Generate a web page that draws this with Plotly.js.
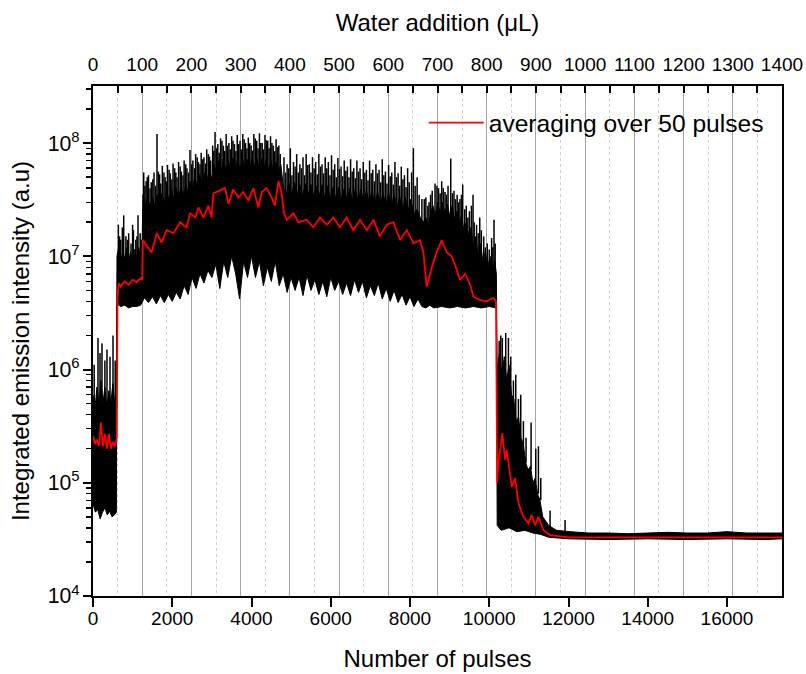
<!DOCTYPE html>
<html>
<head>
<meta charset="utf-8">
<script src="https://cdn.plot.ly/plotly-3.0.1.min.js"></script>
<style>html,body{margin:0;padding:0;background:#fff;}#chart{width:806px;height:674px;}</style>
</head>
<body>
<div id="chart"></div>
<script>
// ---- Raw single-pulse emission, dense core: upper edge ----
const upperX = [0,50,100,150,200,250,300,350,400,450,500,550,590,
  605,650,700,750,800,850,900,950,1000,1050,1100,1150,1200,1235,
  1260,1320,1380,1440,1500,1560,1620,1680,1740,1800,1860,1920,1980,2040,2100,2160,2220,2280,2340,2400,2450,
  2510,2570,2630,2690,2750,2810,2870,2930,2990,
  3050,3110,3170,3230,3290,3350,3410,3470,3530,3590,3650,3710,3770,3830,3890,3950,4010,4070,4130,4190,4250,4310,4370,4430,4490,4550,4610,4670,4740,
  4800,4870,4940,5010,5080,5150,5220,5290,5360,5430,5500,5570,5640,5710,5780,5850,5920,5990,6060,6130,6200,6270,6340,6410,6480,6550,6620,6690,6760,6830,6900,6970,7040,7110,7180,7250,7320,7390,7460,7530,7600,7670,7740,7810,7880,7950,8020,8100,8180,8260,8340,8400,8460,8520,
  8580,8640,8700,8760,8820,8880,8940,9000,9060,9120,9180,9240,9300,9360,9420,9480,9540,9600,9660,9720,9780,9840,9900,9960,10020,10080,10140,10180,
  10200,10260,10320,10380,10440,10500,10560,10620,10680,10740,10800,10860,10920,10980,11040,11100,11160,11220,11280,11350,11500,11700,12040,12500,13000,13500,14000,14500,15000,15500,16000,16500,17000,17388];
const upperY = [6e5,4.5e5,7e5,5e5,8e5,5e5,7e5,4.5e5,6.5e5,5e5,7.5e5,5e5,6e5,
  1e7,1.2e7,9e6,1.1e7,9.5e6,1.2e7,9e6,1.1e7,9e6,1.15e7,9.5e6,1.2e7,1e7,1.1e7,
  3.5e7,2.8e7,3.4e7,2.7e7,3.3e7,2.8e7,3.5e7,2.9e7,3.6e7,3.0e7,3.8e7,3.1e7,3.9e7,3.2e7,4.0e7,3.3e7,4.1e7,3.4e7,4.3e7,3.6e7,4.6e7,
  4e7,5e7,4.2e7,5.3e7,4.4e7,5.5e7,4.6e7,5.6e7,4.8e7,
  6.5e7,5.5e7,7e7,5.6e7,7.2e7,5.8e7,7e7,5.8e7,7.4e7,6e7,7.2e7,5.8e7,7.4e7,6e7,7.2e7,5.8e7,7.4e7,6e7,7.5e7,6e7,7.3e7,5.8e7,7.2e7,5.8e7,7e7,5.6e7,6.8e7,5.5e7,6.5e7,
  4.2e7,3.4e7,4.4e7,3.5e7,4.5e7,3.5e7,4.3e7,3.4e7,4.4e7,3.5e7,4.3e7,3.4e7,4.2e7,3.4e7,4.3e7,3.3e7,4.2e7,3.3e7,4.1e7,3.2e7,4.1e7,3.2e7,4e7,3.2e7,4e7,3.1e7,3.9e7,3.1e7,3.9e7,3e7,3.8e7,3e7,3.8e7,2.9e7,3.7e7,2.9e7,3.6e7,2.8e7,3.6e7,2.8e7,3.5e7,2.7e7,3.4e7,2.6e7,3.3e7,2.5e7,3.2e7,2.4e7,2.6e7,2.2e7,2.0e7,2.2e7,1.8e7,2.4e7,
  2.8e7,2.3e7,3.0e7,2.4e7,3.0e7,2.4e7,2.9e7,2.3e7,2.8e7,2.1e7,2.5e7,1.9e7,2.3e7,1.7e7,2.0e7,1.5e7,1.8e7,1.2e7,1.5e7,1.0e7,1.3e7,9e6,1.1e7,8e6,1.0e7,7.5e6,9e6,7e6,
  1.0e6,1.4e6,9e5,1.3e6,8e5,1.1e6,6e5,5.5e5,3.5e5,3.8e5,2.5e5,2.2e5,1.5e5,1.3e5,1.4e5,1.0e5,1.1e5,8e4,7e4,5e4,4.2e4,3.8e4,3.7e4,3.6e4,3.6e4,3.55e4,3.6e4,3.65e4,3.6e4,3.6e4,3.7e4,3.6e4,3.6e4,3.6e4];

// ---- Raw emission: lower edge ----
const lowerX = [0,60,120,180,240,300,360,420,480,540,590,605,700,800,900,1000,1100,1200,1300,1400,1500,1600,1700,1800,1900,2000,2100,2200,2300,2400,2500,2600,2700,2800,2900,3000,3100,3200,3300,3400,3500,3600,3700,3800,3900,4000,4100,4200,4300,4400,4500,4600,4700,4800,4900,5000,5100,5200,5300,5400,5500,5600,5700,5800,5900,6000,6100,6200,6300,6400,6500,6600,6700,6800,6900,7000,7100,7200,7300,7400,7500,7600,7700,7800,7900,8000,8100,8200,8300,8400,8500,8600,8800,9000,9200,9400,9600,9800,10000,10180,10200,10300,10500,10700,10900,11100,11300,11500,12000,13000,14000,15000,16000,17000,17388];
const lowerY = [6.5e4,5.5e4,5.8e4,4.8e4,5.5e4,6.0e4,5.2e4,5.6e4,5.0e4,5.2e4,5.5e4,3.8e6,3.6e6,3.7e6,3.5e6,3.6e6,3.6e6,3.7e6,4.3e6,3.9e6,4.4e6,3.8e6,4.5e6,3.9e6,4.6e6,4.0e6,4.8e6,4.2e6,5.5e6,4.6e6,6.5e6,5.2e6,7.0e6,5.8e6,7.5e6,6.5e6,8.5e6,5.2e6,9e6,6.5e6,1.0e7,7e6,4.2e6,9e6,6.5e6,1.0e7,6.5e6,9e6,5.5e6,8e6,6e6,9e6,5.5e6,7e6,4.8e6,6.5e6,5e6,6.5e6,4.5e6,6.8e6,5e6,6.2e6,4.6e6,6e6,4.4e6,6.5e6,5e6,6e6,4.6e6,5.8e6,4.5e6,6.2e6,4.8e6,6e6,4.3e6,5.5e6,4.5e6,5.8e6,4.2e6,5.2e6,4.0e6,5e6,3.9e6,4.6e6,3.7e6,4.4e6,3.6e6,4.2e6,3.6e6,3.5e6,3.7e6,3.5e6,3.6e6,3.5e6,3.6e6,3.5e6,3.6e6,3.5e6,3.6e6,3.5e6,4.2e4,3.8e4,4.0e4,3.7e4,3.8e4,3.6e4,3.5e4,3.3e4,3.2e4,3.15e4,3.2e4,3.15e4,3.2e4,3.15e4,3.2e4];

// ---- Raw emission: single-pulse spikes above the core, by stage ----
const spikeCoreLevel = [4.5e5, 9e6, 2.7e7, 4e7, 5.5e7, 2e7, 1.6e7, 7e6];
const spikeXStage = [
  [30,126,177,227,300,353,429,505,560],
  [640,670,700,740,775,830,870,900,960,1000,1020,1080,1110,1136,1190,1215],
  [1280,1310,1340,1370,1400,1440,1470,1510,1540,1580,1615,1650,1680,1710,1750,1790,1820,1850,1880,1920,1950,1990,2020,2060,2090,2120,2160,2200,2230,2270,2300,2340,2370,2410,2448],
  [2490,2520,2560,2590,2630,2660,2700,2730,2770,2800,2840,2870,2910,2940,2970],
  [3020,3050,3080,3115,3150,3185,3220,3255,3290,3325,3360,3395,3430,3465,3500,3535,3570,3605,3640,3675,3710,3745,3780,3815,3850,3885,3920,3955,3990,4025,4060,4095,4130,4165,4200,4235,4270,4305,4340,4375,4410,4445,4480,4515,4550,4585,4620,4655,4690,4725],
  [4820,4860,4900,4940,4980,5020,5060,5100,5140,5180,5220,5260,5300,5340,5380,5420,5460,5500,5540,5580,5620,5660,5700,5740,5780,5820,5860,5900,5940,5980,6020,6060,6100,6140,6180,6220,6260,6300,6340,6380,6420,6460,6500,6540,6580,6620,6660,6700,6740,6780,6820,6860,6900,6940,6980,7020,7060,7100,7140,7180,7220,7260,7300,7340,7380,7420,7460,7500,7540,7580,7620,7660,7700,7740,7780,7820,7860,7900,7940,7980,8040,8085,8130,8180,8230,8300],
  [8360,8400,8450,8480,8520,8560,8632,8680,8720,8760,8800,8840,8884,8920,8960,9028,9070,9110,9150,9190,9230,9260,9300,9330,9380],
  [9420,9460,9500,9550,9591,9620,9680,9720,9760,9800,9860,9900,9950,10000,10060,10090,10120,10150]
];
const spikeTopStage = [
  [1.1e6,1.9e6,1.4e6,1.7e6,1.2e6,1.5e6,1.3e6,2.0e6,1.2e6],
  [1.9e7,1.5e7,1.4e7,1.8e7,2.3e7,1.5e7,1.4e7,1.6e7,1.3e7,1.9e7,1.7e7,1.4e7,1.5e7,2.3e7,1.6e7,1.4e7],
  [5.5e7,4.2e7,4.6e7,5e7,5.2e7,4e7,4.5e7,4.8e7,5.5e7,4.2e7,1.2e8,5.6e7,5.3e7,4.4e7,6.3e7,5.5e7,5e7,4.6e7,6.4e7,5.8e7,5.4e7,4.8e7,6.6e7,6e7,5.5e7,5e7,6.8e7,6.2e7,5.6e7,5.2e7,7e7,6.5e7,6e7,5.5e7,8.7e7],
  [6.5e7,7e7,6e7,8e7,7.5e7,6.8e7,6.5e7,8.2e7,7.2e7,7.5e7,6.6e7,8.8e7,8e7,7.6e7,7e7],
  [9.5e7,8.5e7,1.25e8,9e7,9.8e7,8.2e7,1.1e8,1.05e8,9.5e7,8.5e7,1.2e8,9.5e7,1.0e8,8.8e7,1.15e8,1.05e8,9.8e7,8.5e7,1.18e8,9.8e7,1.05e8,8.8e7,1.2e8,1.08e8,1.0e8,9e7,1.12e8,1.0e8,9.5e7,8.6e7,1.2e8,1.1e8,1.05e8,9e7,1.22e8,1.0e8,1.0e8,8.8e7,1.18e8,1.06e8,1.05e8,9e7,1.15e8,1.0e8,9.5e7,8.5e7,1.08e8,9.2e7,9.5e7,8e7],
  [7.5e7,5.5e7,6.5e7,6e7,9e7,5.2e7,6.8e7,6.2e7,8e7,5.5e7,6.5e7,6e7,7.5e7,5.2e7,8e7,6.4e7,6.5e7,5.5e7,7.5e7,6e7,6.8e7,5.3e7,8e7,6.2e7,6.5e7,5.4e7,7.5e7,6e7,6.8e7,5.2e7,7.8e7,5.8e7,6.5e7,5e7,7.4e7,5.9e7,6.2e7,5.1e7,7e7,5.7e7,6.2e7,5e7,7.2e7,5.6e7,6e7,4.9e7,7e7,5.6e7,6e7,4.8e7,6.8e7,5.5e7,5.8e7,4.7e7,7e7,5.4e7,5.8e7,4.6e7,6.5e7,5.4e7,5.8e7,4.5e7,7.2e7,5.2e7,5.6e7,4.4e7,6.4e7,5.1e7,5.5e7,4.3e7,6.8e7,5e7,5.4e7,4.2e7,6.2e7,4.8e7,5.2e7,4.1e7,6e7,4.5e7,5.5e7,9e7,4.2e7,5e7,3.5e7,3.2e7],
  [3.2e7,3.3e7,2.8e7,3e7,3.5e7,3.8e7,4.4e7,4.2e7,4e7,3.6e7,4.6e7,4e7,3.7e7,3.5e7,4.2e7,7.3e7,3.6e7,3.8e7,3.2e7,3.5e7,3e7,3.2e7,3.5e7,4.3e7,2.6e7],
  [2.8e7,2.2e7,2.5e7,2.8e7,3.5e7,2e7,1.9e7,1.6e7,2.2e7,1.7e7,1.5e7,1.2e7,1.3e7,1.15e7,1.45e7,1.2e7,2.1e7,1.3e7]
];
// spikes in the falling stage after ~10200 pulses
const tailSpikeX = [10250,10290,10330,10416,10484,10542,10610,10669,10736,10795,10862,10929,11056,11174,11241,11300,11535,11914];
const tailSpikeBase = [9e5,9e5,9e5,8e5,8e5,6e5,5e5,3.5e5,3.5e5,2.5e5,2e5,1.5e5,1.3e5,1e5,8e4,7e4,4e4,3.7e4];
const tailSpikeTop = [1.8e6,2.0e6,1.9e6,2.1e6,1.9e6,1.3e6,8e5,9e5,5.5e5,6e5,3.5e5,2.5e5,3.4e5,2e5,2.1e5,1.1e5,5.7e4,4.7e4];

// ---- Averaging over 50 pulses (red line) ----
const avgX = [0,50,100,150,200,250,300,350,400,450,500,560,600,620,650,700,800,900,1000,1100,1200,1240,1260,1360,1480,1610,1730,1860,2030,2200,2360,2450,2580,2660,2790,2910,2990,3040,3200,3330,3420,3540,3670,3790,3920,4050,4170,4260,4380,4510,4590,4680,4760,4820,4890,5060,5180,5390,5560,5730,5900,6070,6230,6400,6570,6740,6910,7080,7240,7410,7580,7750,7920,8090,8250,8340,8420,8550,8670,8800,8930,9050,9180,9260,9390,9520,9600,9770,9940,10100,10170,10200,10230,10330,10400,10440,10510,10570,10650,10740,10860,10990,11070,11160,11240,11370,11540,12000,13000,14000,15000,16000,17000,17388];
const avgY = [2.6e5,2.2e5,2.4e5,2.1e5,3.4e5,2.1e5,2.7e5,2.0e5,2.7e5,2.0e5,2.3e5,2.1e5,2.5e5,4.5e6,5.8e6,5.4e6,6.0e6,5.6e6,6.2e6,5.9e6,6.4e6,6.2e6,1.39e7,1.23e7,1.08e7,1.6e7,1.32e7,1.7e7,1.6e7,2.0e7,1.8e7,2.4e7,2.2e7,2.7e7,2.2e7,2.8e7,2.2e7,3.6e7,3.8e7,4.0e7,2.9e7,3.9e7,3.3e7,3.7e7,3.1e7,4.0e7,2.7e7,3.7e7,4.0e7,3.3e7,2.8e7,4.6e7,3.6e7,2.4e7,2.1e7,2.4e7,2.0e7,2.1e7,1.8e7,2.2e7,1.9e7,2.2e7,1.8e7,2.2e7,1.7e7,2.1e7,1.7e7,2.1e7,1.5e7,1.9e7,2.0e7,1.39e7,1.7e7,1.3e7,1.39e7,1.08e7,5.4e6,8.0e6,1.08e7,1.39e7,1.08e7,1.0e7,7.6e6,6.2e6,7.0e6,5.6e6,4.4e6,4.1e6,4.0e6,4.3e6,4.0e6,1.0e5,1.5e5,2.75e5,1.6e5,1.95e5,1.3e5,9.2e4,1.1e5,6.6e4,5.0e4,4.4e4,5.2e4,4.2e4,5.0e4,3.8e4,3.45e4,3.3e4,3.3e4,3.3e4,3.3e4,3.3e4,3.3e4,3.3e4];

// ---- Axis ranges ----
const pulseRange = [0, 17388];
const waterRange = [0, 1400];
const logRange = [4, 8.504];

const FONT = 'Liberation Sans, Arial, sans-serif';

// spike segments (vertical lines from the core level to each spike top)
const segX = [], segY = [];
spikeXStage.forEach((xs, s) => xs.forEach((x, i) => { segX.push(x, x, null); segY.push(spikeCoreLevel[s], spikeTopStage[s][i], null); }));
tailSpikeX.forEach((x, i) => { segX.push(x, x, null); segY.push(tailSpikeBase[i], tailSpikeTop[i], null); });

const traces = [
  {x: lowerX, y: lowerY, type: 'scatter', mode: 'lines', line: {color: '#000', width: 1}, showlegend: false, hoverinfo: 'skip'},
  {x: upperX, y: upperY, type: 'scatter', mode: 'lines', fill: 'tonexty', fillcolor: '#000', line: {color: '#000', width: 1}, showlegend: false, hoverinfo: 'skip'},
  {x: segX, y: segY, type: 'scatter', mode: 'lines', connectgaps: false, line: {color: '#000', width: 1.5}, showlegend: false, hoverinfo: 'skip'},
  {x: avgX, y: avgY, type: 'scatter', mode: 'lines', name: 'averaging over 50 pulses', line: {color: '#ff0000', width: 1.8}},
  {x: waterRange, y: [null, null], xaxis: 'x2', type: 'scatter', mode: 'lines', showlegend: false, hoverinfo: 'skip'}
];

const layout = {
  width: 806, height: 674,
  margin: {l: 93, r: 24, t: 86, b: 78, pad: 0},
  paper_bgcolor: '#fff', plot_bgcolor: '#fff',
  font: {family: FONT, color: '#000'},
  showlegend: true,
  legend: {x: 0.48, y: 0.928, xanchor: 'left', yanchor: 'middle', bgcolor: 'rgba(0,0,0,0)',
           font: {family: FONT, size: 24.6, color: '#000'}, itemwidth: 55, tracegroupgap: 0},
  xaxis: {
    range: pulseRange, tickmode: 'linear', tick0: 0, dtick: 2000, tickformat: 'd',
    ticks: 'outside', ticklen: 9, tickwidth: 2, tickcolor: '#000',
    showline: true, linewidth: 2, linecolor: '#000', mirror: false,
    showgrid: false, zeroline: false,
    ticklabelstandoff: -5,
    tickfont: {family: FONT, size: 19, color: '#000'},
    title: {text: 'Number of pulses', font: {family: FONT, size: 24, color: '#000'}, standoff: 22}
  },
  xaxis2: {
    overlaying: 'x', side: 'top', anchor: 'y',
    range: waterRange, tickmode: 'linear', tick0: 0, dtick: 100, tickformat: 'd',
    ticks: 'inside', ticklen: 7, tickwidth: 2, tickcolor: '#000',
    showline: true, linewidth: 2, linecolor: '#000',
    showgrid: true, gridcolor: '#a6a6a6', gridwidth: 1, zeroline: false,
    minor: {dtick: 50, ticks: 'inside', ticklen: 7, tickwidth: 2, tickcolor: '#000', showgrid: true, gridcolor: '#cfcfcf', griddash: 'dot', gridwidth: 1},
    ticklabelstandoff: 5,
    tickfont: {family: FONT, size: 19, color: '#000'},
    title: {text: 'Water addition (μL)', font: {family: FONT, size: 24, color: '#000'}, standoff: 16}
  },
  yaxis: {
    type: 'log', range: logRange, tickmode: 'linear', tick0: 0, dtick: 1,
    exponentformat: 'power',
    ticks: 'outside', ticklen: 8, tickwidth: 2, tickcolor: '#000',
    minor: {dtick: 'D1', ticks: 'outside', ticklen: 5, tickwidth: 1.5, tickcolor: '#000', showgrid: false},
    showline: true, linewidth: 2, linecolor: '#000', mirror: true,
    showgrid: false, zeroline: false,
    tickfont: {family: FONT, size: 17, color: '#000'},
    title: {text: 'Integrated emission intensity (a.u)', font: {family: FONT, size: 24, color: '#000'}, standoff: 11}
  }
};

Plotly.newPlot('chart', traces, layout, {staticPlot: true, displayModeBar: false});
</script>
</body>
</html>
